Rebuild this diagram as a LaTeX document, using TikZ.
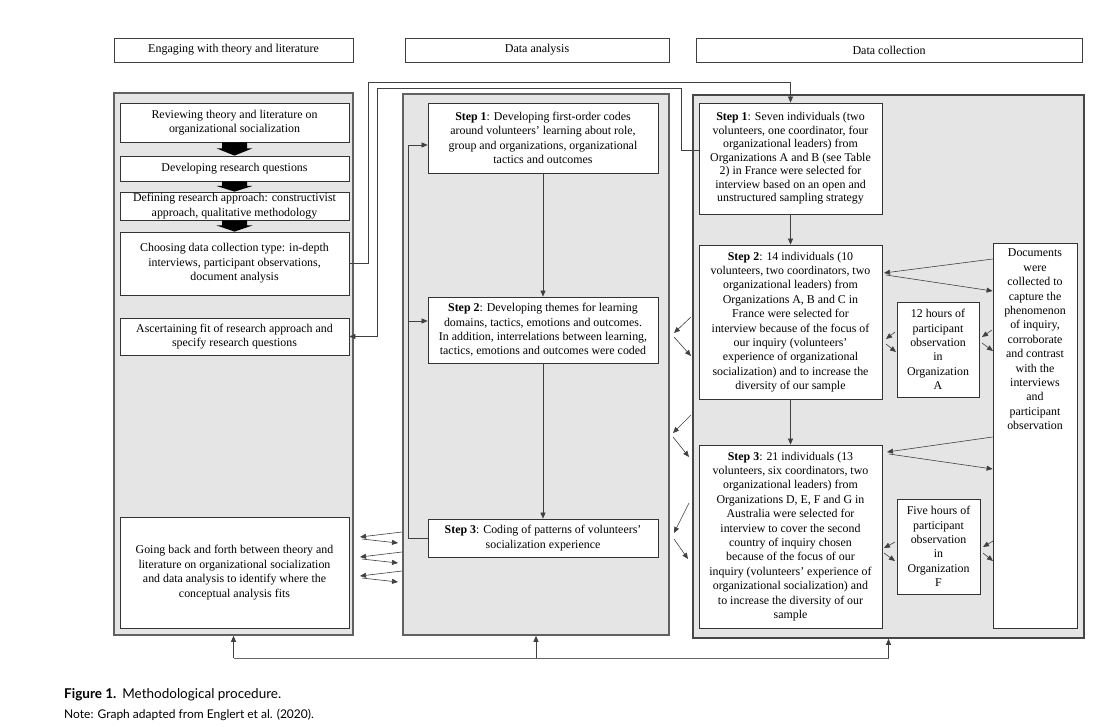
\documentclass[tikz,border=0pt]{standalone}
\usepackage{fontspec}
\setmainfont{Liberation Serif}
\newfontfamily\capfont{Lato}
\usetikzlibrary{arrows.meta,calc,shadows}
\definecolor{panelgray}{HTML}{E6E5E6}
\newcommand{\bxfont}{\fontsize{11.9}{14.4}\selectfont}
\newcommand{\bxtight}{\fontsize{11.9}{13.5}\selectfont}
\newcommand{\hdfont}{\fontsize{12}{14}\selectfont}
\newcommand{\blkarr}[2]{%
  \fill ($(#1.south)+(-12.5,0)$) -- ($(#1.south)+(12.5,0)$)
    -- ($(#1.south)!0.45!(#2.north)+(12.5,0)$) -- ($(#1.south)!0.45!(#2.north)+(18,0)$)
    -- (#2.north) -- ($(#1.south)!0.45!(#2.north)+(-18,0)$)
    -- ($(#1.south)!0.45!(#2.north)+(-12.5,0)$) -- cycle;}
\begin{document}
\begin{tikzpicture}[x=1pt,y=-1pt,
  panel/.style={draw=black!62, line width=1.6pt, fill=panelgray},
  hdbox/.style={draw=black!75, line width=0.8pt, fill=white, font=\hdfont, minimum height=24pt, inner sep=1pt,
    general shadow={shadow xshift=1.2pt, shadow yshift=-1.2pt, fill=black!55}},
  box/.style={draw=black!80, line width=0.8pt, fill=white, align=center, inner sep=1pt, font=\bxfont},
  arr/.style={draw=black!75, line width=0.6pt, -{Triangle[length=6pt,width=5pt]}},
  plain/.style={draw=black!60, line width=0.7pt}
]
\useasboundingbox (0,0) rectangle (1118,727);
\fill[white] (0,0) rectangle (1118,727);

% headers
\node[hdbox, minimum width=239pt] (hL) at (233.5,50) {Engaging with theory and literature};
\node[hdbox, minimum width=264pt] (hM) at (537,50) {Data analysis};
\node[hdbox, minimum width=386pt] (hR) at (889,50) {Data collection};

% panels
\node[panel, minimum width=239pt, minimum height=542pt] (pL) at (233.5,364) {};
\node[panel, minimum width=266pt, minimum height=541pt] (pM) at (536,364.5) {};
\node[panel, draw=black!72, minimum width=391pt, minimum height=543pt] (pR) at (888.5,366.5) {};

% left column
\node[box, minimum width=229pt, minimum height=39pt] (L1) at (234.5,122.5) {Reviewing theory and literature on\\organizational socialization};
\node[box, minimum width=229pt, minimum height=25pt] (L2) at (234.5,168.5) {Developing research questions};
\node[box, minimum width=229pt, minimum height=28pt] (L3) at (234.5,206) {Defining research approach: constructivist\\approach, qualitative methodology};
\node[box, minimum width=229pt, minimum height=63pt] (L4) at (234.5,263.5) {Choosing data collection type: in-depth\\interviews, participant observations,\\document analysis};
\node[box, minimum width=229pt, minimum height=37pt] (L5) at (234.5,336.5) {Ascertaining fit of research approach and\\specify research questions};
\node[box, minimum width=229pt, minimum height=111pt] (L6) at (234.5,572.5) {Going back and forth between theory and\\literature on organizational socialization\\and data analysis to identify where the\\conceptual analysis fits};

\blkarr{L1}{L2}
\blkarr{L2}{L3}
\blkarr{L3}{L4}

% middle column
\node[box, minimum width=230pt, minimum height=70pt] (M1) at (543,138) {\textbf{Step 1}: Developing first-order codes\\around volunteers’ learning about role,\\group and organizations, organizational\\tactics and outcomes};
\node[box, minimum width=230pt, minimum height=66pt] (M2) at (543,330) {\textbf{Step 2}: Developing themes for learning\\domains, tactics, emotions and outcomes.\\In addition, interrelations between learning,\\tactics, emotions and outcomes were coded};
\node[box, minimum width=230pt, minimum height=38pt] (M3) at (543,538) {\textbf{Step 3}: Coding of patterns of volunteers’\\socialization experience};

% right column
\node[box, font=\bxtight, minimum width=183pt, minimum height=111pt] (R1) at (790.5,158.5) {\textbf{Step 1}: Seven individuals (two\\volunteers, one coordinator, four\\organizational leaders) from\\Organizations A and B (see Table\\2) in France were selected for\\interview based on an open and\\unstructured sampling strategy};
\node[box, minimum width=183pt, minimum height=154pt] (R2) at (790.5,322) {\textbf{Step 2}: 14 individuals (10\\volunteers, two coordinators, two\\organizational leaders) from\\Organizations A, B and C in\\France were selected for\\interview because of the focus of\\our inquiry (volunteers’\\experience of organizational\\socialization) and to increase the\\diversity of our sample};
\node[box, minimum width=183pt, minimum height=183pt] (R3) at (790.5,536.5) {\textbf{Step 3}: 21 individuals (13\\volunteers, six coordinators, two\\organizational leaders) from\\Organizations D, E, F and G in\\Australia were selected for\\interview to cover the second\\country of inquiry chosen\\because of the focus of our\\inquiry (volunteers’ experience of\\organizational socialization) and\\to increase the diversity of our\\sample};
\node[box, minimum width=82pt, minimum height=95pt] (H12) at (938,349.5) {12 hours of\\participant\\observation\\in\\Organization\\A};
\node[box, minimum width=83pt, minimum height=95pt] (H5) at (938.5,546.5) {Five hours of\\participant\\observation\\in\\Organization\\F};
\node[box, minimum width=84pt, minimum height=385pt,
  label={[anchor=north, yshift=-3pt, align=center, font=\bxfont]north:{Documents\\were\\collected to\\capture the\\phenomenon\\of inquiry,\\corroborate\\and contrast\\with the\\interviews\\and\\participant\\observation}}] (Doc) at (1035,435.5) {};

% connectors between columns
\coordinate (a1) at (368,82.5);
\draw[arr] (L4.east) -| (a1) -| (R1.north);
\coordinate (b1) at (681,88);
\coordinate (b2) at (377,88);
\draw[arr] ([yshift=8.5pt]R1.west) -| (b1) -- (b2) |- (L5.east);

% middle loop
\coordinate (mx) at (408,538);
\draw[arr] (M3.west) -- (mx) |- ([yshift=-7pt]M1.west);
\draw[arr] (mx |- 0,321) -- ([yshift=9pt]M2.west);
\draw[arr] (M1) -- (M2);
\draw[arr] (M2) -- (M3);

% right vertical
\draw[arr] (R1) -- (R2);
\draw[arr] (R2) -- (R3);

% bottom line
\coordinate (bt) at (0,658);
\draw[plain] (pL.south |- bt) -- (pR.south |- bt);
\draw[arr] (pL.south |- bt) -- (pL.south);
\draw[arr] (pM.south |- bt) -- (pM.south);
\draw[arr] (pR.south |- bt) -- (pR.south);

% left <-> middle pairs
\foreach \y in {532,552,571}{
  \draw[arr] (402,\y) -- (360,\y+5);
  \draw[arr] (362,\y+7) -- (398,\y+11);
}

% middle <-> right pairs
\draw[arr] (691,317) -- (674,333);
\draw[arr] (674,337) -- (691,356);
\draw[arr] (691,415) -- (673,433);
\draw[arr] (673,437) -- (689,457);
\draw[arr] (689,503) -- (674,533);
\draw[arr] (674,539) -- (688,559);

% documents <-> steps
\draw[arr] (Doc.west |- 0,259) -- (884,273);
\draw[arr] (886,275) -- (Doc.west |- 0,291);
\draw[arr] (Doc.west |- 0,437) -- (887,452);
\draw[arr] (889,454) -- (Doc.west |- 0,469);

% observation boxes pairs
\draw[arr] (895,332) -- (886,339);
\draw[arr] (886,344) -- (896,352);
\draw[arr] (992,330) -- (982,337);
\draw[arr] (982,343) -- (993,351);
\draw[arr] (895,542) -- (884,548);
\draw[arr] (884,553) -- (895,561);
\draw[arr] (993,541) -- (983,547);
\draw[arr] (983,553) -- (993,561);

% caption
\node[anchor=base west, font=\capfont\fontsize{13.5}{16}\selectfont, inner sep=0pt] (cap) at (64,698) {\textbf{Figure 1.}\hspace{6pt}Methodological procedure.};
\node[anchor=base west, font=\capfont\fontsize{12}{14}\selectfont, inner sep=0pt] (note) at (64,718) {Note: Graph adapted from Englert et al. (2020).};
\end{tikzpicture}
\end{document}
